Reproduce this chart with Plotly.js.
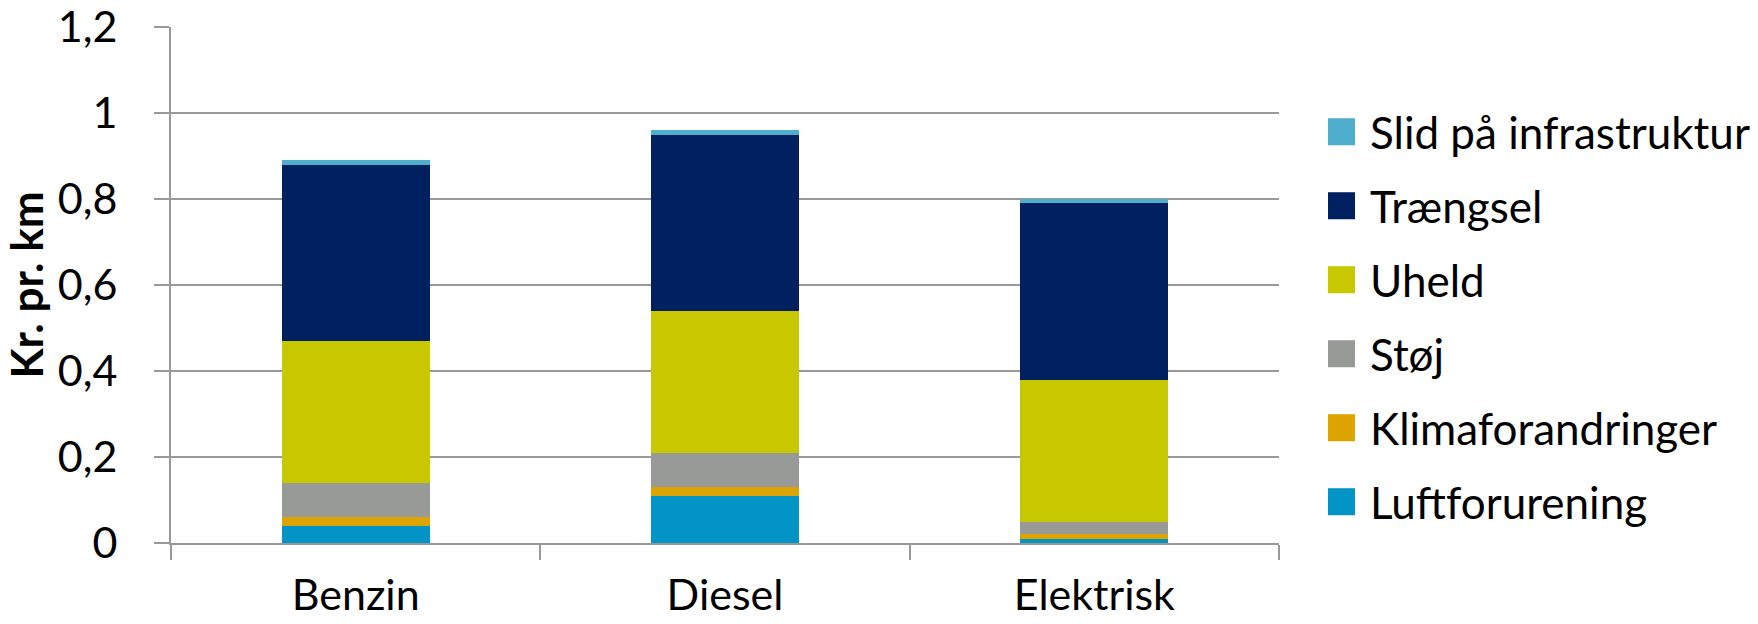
<!DOCTYPE html>
<html>
<head>
<meta charset="utf-8">
<script src="https://cdn.plot.ly/plotly-3.0.1.min.js"></script>
<style>html,body{margin:0;padding:0;background:#fff;}#chart{width:1758px;height:624px;}</style>
</head>
<body>
<div id="chart"></div>
<script>
// Categories (x axis)
var categories = ["Benzin", "Diesel", "Elektrisk"];

// Series names (stack order bottom -> top)
var seriesNames = ["Luftforurening", "Klimaforandringer", "Støj", "Uheld", "Trængsel", "Slid på infrastruktur"];

// Series values (Kr. pr. km)
var luftforurening    = [0.04, 0.11, 0.01];
var klimaforandringer = [0.02, 0.02, 0.01];
var stoej             = [0.08, 0.08, 0.03];
var uheld             = [0.33, 0.33, 0.33];
var traengsel         = [0.41, 0.41, 0.41];
var slid              = [0.01, 0.01, 0.01];

var seriesValues = [luftforurening, klimaforandringer, stoej, uheld, traengsel, slid];
var seriesColors = ["#0394C6", "#DDA400", "#989A98", "#C8C800", "#002060", "#4FAECB"];

var yTickVals = [0, 0.2, 0.4, 0.6, 0.8, 1, 1.2];

var FONT = "Lato, 'Open Sans', sans-serif";
var FS = 43;

var traces = seriesNames.map(function (name, i) {
  return {
    type: "bar",
    name: name,
    x: categories,
    y: seriesValues[i],
    marker: { color: seriesColors[i], line: { width: 0 } },
    showlegend: false,
    hoverinfo: "name+y"
  };
});

// Custom legend (large swatches like the reference), top entry = last series
var shapes = [];
var annotations = [];
var n = seriesNames.length;
var rowTop = 0.797, rowStep = 0.1434, half = 0.0262;
for (var k = 0; k < n; k++) {
  var idx = n - 1 - k;
  var yc = rowTop - rowStep * k;
  shapes.push({
    type: "rect", xref: "paper", yref: "paper",
    x0: 1.0442, x1: 1.0686, y0: yc - half, y1: yc + half,
    fillcolor: seriesColors[idx], line: { width: 0 }
  });
  annotations.push({
    xref: "paper", yref: "paper", x: 1.0803, y: yc,
    xanchor: "left", yanchor: "middle", showarrow: false,
    text: seriesNames[idx],
    font: { family: FONT, size: 44, color: "#000" }
  });
}

var layout = {
  width: 1758, height: 624,
  margin: { l: 171, r: 479, t: 27, b: 81, pad: 0 },
  paper_bgcolor: "#fff", plot_bgcolor: "#fff",
  barmode: "stack",
  bargap: 0.6,
  separators: ", ",
  showlegend: false,
  font: { family: FONT, size: FS, color: "#000" },
  xaxis: {
    type: "category",
    tickson: "boundaries",
    ticks: "outside", ticklen: 15, tickwidth: 2, tickcolor: "#999",
    showline: true, linecolor: "#999", linewidth: 2,
    showgrid: false, zeroline: false,
    ticklabelstandoff: 13,
    tickfont: { family: FONT, size: FS, color: "#000" }
  },
  yaxis: {
    range: [0, 1.2],
    tickvals: yTickVals,
    ticks: "outside", ticklen: 15, tickwidth: 2, tickcolor: "#999",
    showline: true, linecolor: "#999", linewidth: 2,
    showgrid: true, gridcolor: "#999", gridwidth: 2,
    zeroline: false,
    ticklabelstandoff: 28,
    tickfont: { family: FONT, size: FS, color: "#000" },
    title: { text: "<b>Kr. pr. km</b>", standoff: 8, font: { family: FONT, size: 44, color: "#000" } }
  },
  shapes: shapes,
  annotations: annotations
};

Plotly.newPlot("chart", traces, layout, { displayModeBar: false, staticPlot: true });
</script>
</body>
</html>
